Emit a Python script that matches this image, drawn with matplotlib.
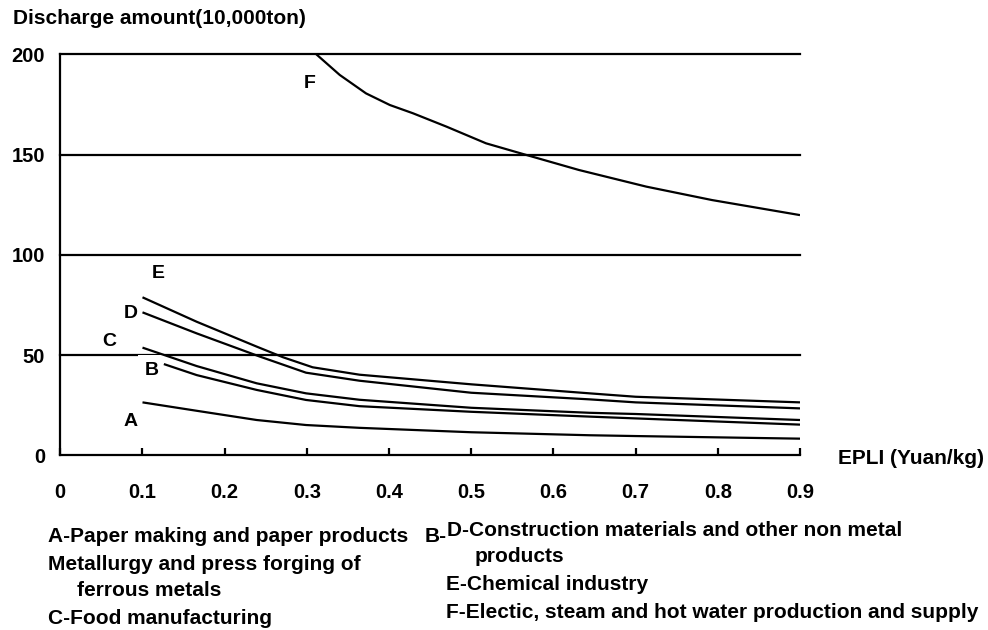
import matplotlib
matplotlib.use("Agg")
import matplotlib.pyplot as plt

plt.rcParams["font.family"] = ["Liberation Sans", "DejaVu Sans"]
plt.rcParams["font.weight"] = "bold"

# curves (EPLI in Yuan/kg, discharge in 10,000 ton)
a_x = [0.1, 0.166, 0.239, 0.299, 0.364, 0.5, 0.644, 0.7, 0.9]
a_y = [26.4, 22.2, 17.6, 15.1, 13.7, 11.5, 10.0, 9.6, 8.3]
b_x = [0.126, 0.166, 0.239, 0.299, 0.364, 0.5, 0.644, 0.7, 0.9]
b_y = [45.5, 40.0, 32.6, 27.6, 24.5, 21.7, 19.3, 18.4, 15.3]
c_x = [0.1, 0.166, 0.239, 0.299, 0.364, 0.5, 0.644, 0.7, 0.9]
c_y = [53.7, 44.5, 35.9, 30.9, 27.7, 23.7, 21.2, 20.6, 17.6]
d_x = [0.1, 0.166, 0.243, 0.299, 0.364, 0.5, 0.644, 0.7, 0.9]
d_y = [71.3, 60.8, 49.2, 41.2, 37.2, 31.2, 27.9, 26.4, 23.4]
e_x = [0.1, 0.166, 0.239, 0.271, 0.307, 0.364, 0.5, 0.644, 0.7, 0.9]
e_y = [78.8, 66.6, 54.2, 48.9, 43.9, 40.2, 35.4, 30.9, 29.2, 26.4]
f_x = [0.3115, 0.340, 0.372, 0.401, 0.429, 0.470, 0.518, 0.567, 0.631, 0.713, 0.793, 0.9]
f_y = [200, 189.7, 180.5, 174.7, 170.6, 163.9, 155.6, 149.8, 142.3, 134.0, 127.3, 119.8]

x_ticks = [0, 0.1, 0.2, 0.3, 0.4, 0.5, 0.6, 0.7, 0.8, 0.9]
x_tick_labels = ["0", "0.1", "0.2", "0.3", "0.4", "0.5", "0.6", "0.7", "0.8", "0.9"]
y_ticks = [0, 50, 100, 150, 200]

# curve letter, label x, label y
curve_labels = [("A", 0.085, 16.8), ("B", 0.111, 42.5), ("C", 0.060, 56.7),
                ("D", 0.0855, 70.8), ("E", 0.119, 90.6), ("F", 0.3034, 185.5)]

W, H = 988, 630
fig = plt.figure(figsize=(W / 100, H / 100), dpi=100)
ax = fig.add_axes([60.3 / W, 1 - 455.3 / H, (800 - 60.3) / W, (455.3 - 54.3) / H])

for yv in y_ticks[1:]:
    ax.axhline(yv, color="black", lw=1.6, zorder=1, clip_on=False)

for xs, ys in [(a_x, a_y), (b_x, b_y), (c_x, c_y), (d_x, d_y), (e_x, e_y), (f_x, f_y)]:
    ax.plot(xs, ys, color="black", lw=1.6, zorder=3, solid_capstyle="butt")

for name, lx, ly in curve_labels:
    if name == "B":
        ax.text(lx, ly, name, ha="center", va="center", fontsize=14, zorder=2,
                bbox=dict(facecolor="white", edgecolor="none", pad=5))
    else:
        ax.text(lx, ly, name, ha="center", va="center", fontsize=14, zorder=2)

ax.set_xlim(0, 0.9)
ax.set_ylim(0, 200)
ax.set_xticks(x_ticks)
ax.set_xticklabels(x_tick_labels)
ax.set_yticks(y_ticks)
ax.tick_params(axis="x", direction="in", length=5, width=1.6, pad=20, labelsize=14.5)
ax.tick_params(axis="y", length=0, pad=11, labelsize=14.5)
for lab in ax.get_xticklabels() + ax.get_yticklabels():
    lab.set_fontweight("bold")

ax.spines["right"].set_visible(False)
ax.spines["top"].set_visible(False)
ax.spines["left"].set_linewidth(1.6)
ax.spines["bottom"].set_linewidth(1.6)


def put(px, py, s, size=15):
    fig.text(px / W, 1 - py / H, s, ha="left", va="center", fontsize=size, fontweight="bold")


put(13, 18, "Discharge amount(10,000ton)")
put(838, 458, "EPLI (Yuan/kg)")

put(48, 537, "A-Paper making and paper products")
put(48, 564, "Metallurgy and press forging of")
put(77, 591, "ferrous metals")
put(48, 618, "C-Food manufacturing")
put(425, 537, "B-")
put(447, 531, "D-Construction materials and other non metal")
put(475, 557, "products")
put(446, 585, "E-Chemical industry")
put(446, 612, "F-Electic, steam and hot water production and supply")

fig.savefig("out.png", dpi=100)
